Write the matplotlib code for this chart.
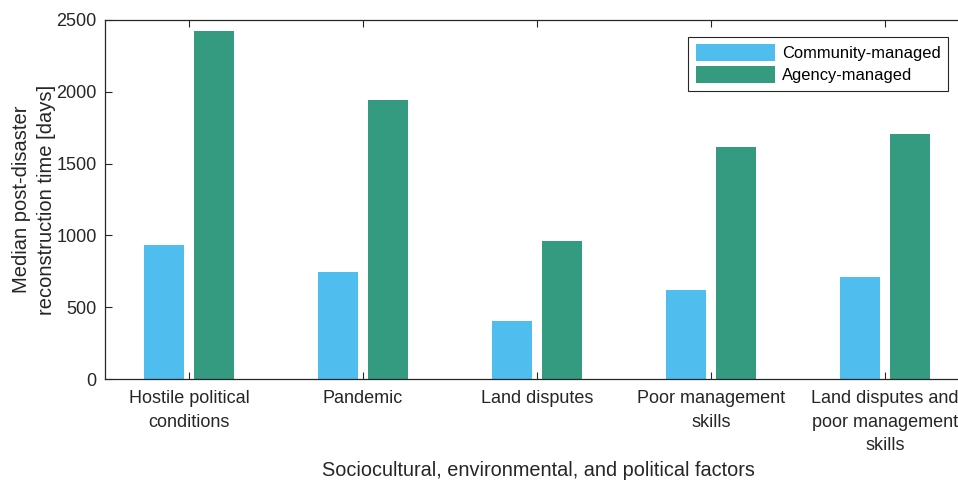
import matplotlib.pyplot as plt
import numpy as np

plt.rcParams['font.family'] = ['Liberation Sans', 'DejaVu Sans']

factors = ['Hostile political\nconditions', 'Pandemic', 'Land disputes',
           'Poor management\nskills', 'Land disputes and\npoor management\nskills']
community = [933, 745, 404, 620, 712]
agency = [2423, 1943, 959, 1618, 1706]

txt = '#262626'
fig = plt.figure(figsize=(9.58, 4.8), dpi=100)
ax = fig.add_axes([105/958, 101/480, 867/958, 359/480])

x = np.arange(1, len(factors) + 1)
w = 0.228
ax.bar(x - 0.143, community, w, color='#4FBEEE', label='Community-managed')
ax.bar(x + 0.143, agency, w, color='#349A80', label='Agency-managed')

ax.set_xlim(0.517, 5.5)
ax.set_ylim(0, 2500)
ax.set_yticks([0, 500, 1000, 1500, 2000, 2500])
ax.set_xticks(x)
ax.set_xticklabels(factors, linespacing=1.5)
ax.tick_params(direction='in', length=5, width=0.8, colors=txt, labelsize=13,
               top=True, pad=6)
ax.tick_params(axis='x', pad=8)
for s in ax.spines.values():
    s.set_color(txt)
    s.set_linewidth(0.9)
ax.spines['right'].set_visible(False)

ax.set_xlabel('Sociocultural, environmental, and political factors', fontsize=14.3,
              color=txt, labelpad=5)
ax.set_ylabel('Median post-disaster\nreconstruction time [days]', fontsize=14.5,
              color=txt, linespacing=1.4)
ax.yaxis.set_label_coords(-0.057, 0.5)

leg = ax.legend(loc='upper right', bbox_to_anchor=((948 - 105) / 867, 1 - 17/359),
                fontsize=11.9, fancybox=False, edgecolor=txt, framealpha=1,
                handlelength=4.8, handleheight=1.2, borderaxespad=0,
                labelspacing=0.3, handletextpad=0.4, borderpad=0.45)
leg.get_frame().set_linewidth(0.8)

fig.savefig('out.png', dpi=100)
